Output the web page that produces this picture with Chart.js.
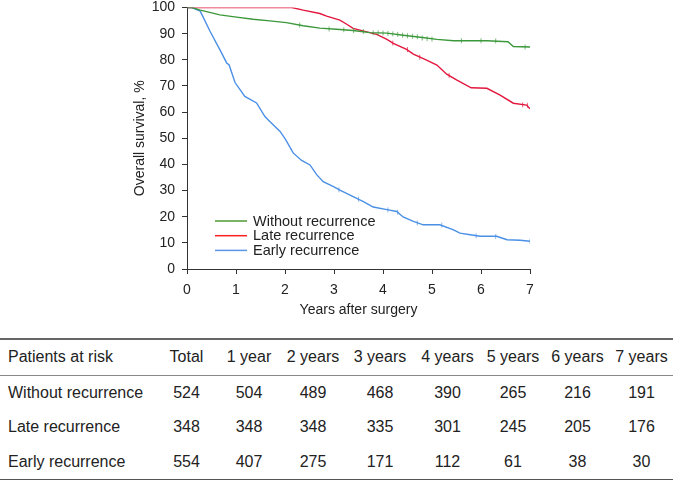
<!DOCTYPE html>
<html>
<head>
<meta charset="utf-8">
<script src="https://cdn.jsdelivr.net/npm/chart.js@4.4.1/dist/chart.umd.min.js"></script>
<style>
body{margin:0;background:#fff;font-family:"Liberation Sans",Arial,sans-serif;}
#wrap{position:relative;width:673px;height:480px;}
#chartbox{position:absolute;left:0;top:0;width:673px;height:330px;}
#risk{position:absolute;left:0;top:338px;width:673px;border-collapse:collapse;table-layout:fixed;font-size:16px;color:#222;}
#risk td{text-align:center;padding:0;height:34.5px;white-space:nowrap;}
#risk td:first-child{text-align:left;padding-left:8px;}
#risk tr:first-child td{border-top:2px solid #666;border-bottom:1px solid #888;}
#risk tr:last-child td{border-bottom:2px solid #555;}
</style>
</head>
<body>
<div id="wrap">
<div id="chartbox"><canvas id="canvas" width="673" height="330"></canvas></div>
<table id="risk"></table>
</div>
<script>
const seriesNames=["Without recurrence","Late recurrence","Early recurrence"];
const seriesColors=["#3b983b","#e3173e","#4a90e6"];
const legendColors=["#4e9a32","#ff2020","#5a96e6"];

const withoutTimes=[0,0.1,0.27,0.4,0.67,1.01,1.35,1.69,2.03,2.37,2.71,3.05,3.39,3.73,4.08,4.41,4.76,5.1,5.44,6.12,6.55,6.66,7.0];
const withoutSurv=[100,100,99.0,98.4,97.2,96.3,95.5,94.9,94.2,93.0,92.1,91.7,91.2,90.4,90.2,89.4,88.6,87.8,87.3,87.3,86.9,85.1,84.9];
const lateTimes=[0,2.14,2.37,2.71,2.85,3.12,3.26,3.39,3.67,3.87,4.08,4.21,4.48,4.62,4.89,5.1,5.3,5.5,5.8,6.12,6.39,6.66,6.93,7.0];
const lateSurv=[100,100,99.0,97.7,96.7,95.2,93.6,92.0,90.7,89.7,87.8,86.3,84.0,82.2,79.9,78.0,74.5,72.3,69.3,69.1,66.5,63.4,62.7,61.3];
const earlyTimes=[0,0.1,0.27,0.47,0.67,0.81,0.86,0.98,1.18,1.42,1.59,1.69,1.9,2.01,2.17,2.34,2.51,2.65,2.78,2.99,3.12,3.39,3.6,3.8,4.08,4.28,4.41,4.62,4.82,5.16,5.44,5.57,5.78,5.98,6.32,6.53,6.8,7.0];
const earlySurv=[100,100,98.6,90.9,83.9,78.8,78.0,71.3,66.0,63.5,58.3,56.4,52.6,49.6,44.3,41.5,39.8,36.0,33.4,31.5,30.2,27.7,25.8,23.7,22.7,22.0,19.9,18.2,16.9,16.9,15.0,13.7,13.1,12.5,12.5,11.2,11.0,10.6];

const withoutCensorX=[2.3,2.9,3.2,3.4,3.6,3.8,3.9,4.0,4.1,4.2,4.3,4.4,4.5,4.6,4.7,4.8,4.9,5.0,5.6,6.0,6.3,6.9];
const withoutCensorY=[93.3,91.8,91.5,91.2,90.8,90.3,90.3,90.2,90.1,89.9,89.7,89.4,89.2,89.0,88.8,88.3,88.1,87.9,87.3,87.3,87.2,84.9];
const lateCensorX=[4.2,4.5,4.75,5.35,6.85,6.95];
const lateCensorY=[86.4,83.9,81.0,74.0,62.8,62.6];
const earlyCensorX=[3.1,3.5,4.1,4.3,4.7,5.2,5.9,6.3,7.0];
const earlyCensorY=[30.3,26.7,22.6,21.7,17.6,16.8,12.7,12.4,10.6];

const xTicks=[0,1,2,3,4,5,6,7];
const yTicks=[0,10,20,30,40,50,60,70,80,90,100];

const riskHeader=["Patients at risk","Total","1 year","2 years","3 years","4 years","5 years","6 years","7 years"];
const riskWithout=[524,504,489,468,390,265,216,191];
const riskLate=[348,348,348,335,301,245,205,176];
const riskEarly=[554,407,275,171,112,61,38,30];
const colWidths=[155,63,62,66,68,67,64,65,63];

function toPoints(xs,ys){
    return xs.map((x,i)=>({x:x,y:ys[i]}));
}
function curve(i,xs,ys){
    return {label:seriesNames[i],data:toPoints(xs,ys),borderColor:seriesColors[i],borderWidth:1.4,pointRadius:0,tension:0,fill:false};
}
function censor(i,xs,ys){
    return {label:"censor",data:toPoints(xs,ys),showLine:false,pointStyle:"line",rotation:90,pointRadius:2.5,borderWidth:1,
        borderColor:seriesColors[i],pointBorderColor:seriesColors[i]+"aa",pointHoverRadius:0};
}
const insideLegend={
    id:"insideLegend",
    afterDraw(chart){
        const ctx=chart.ctx;
        const left=chart.chartArea.left;
        ctx.save();
        ctx.font="14.5px 'Liberation Sans', Arial, sans-serif";
        ctx.textBaseline="middle";
        seriesNames.forEach((name,i)=>{
            const y=221+i*14.7;
            ctx.strokeStyle=legendColors[i];
            ctx.lineWidth=1.5;
            ctx.beginPath();
            ctx.moveTo(left+28,y);
            ctx.lineTo(left+60,y);
            ctx.stroke();
            ctx.fillStyle="#222";
            ctx.fillText(name,left+66,y+0.5);
        });
        ctx.restore();
    }
};
function axisStyle(){
    return {
        grid:{drawOnChartArea:false,drawTicks:true,tickLength:5,color:"#333"},
        border:{display:true,color:"#333",width:1}
    };
}
function drawChart(){
    const ctx=document.getElementById("canvas");
    new Chart(ctx,{
        type:"line",
        data:{datasets:[
            censor(0,withoutCensorX,withoutCensorY),
            curve(0,withoutTimes,withoutSurv),
            curve(1,lateTimes,lateSurv),
            censor(1,lateCensorX,lateCensorY),
            curve(2,earlyTimes,earlySurv),
            censor(2,earlyCensorX,earlyCensorY)
        ]},
        options:{
            responsive:false,
            animation:false,
            layout:{padding:{left:128,right:143,top:7.5,bottom:7.6}},
            plugins:{legend:{display:false},tooltip:{enabled:false}},
            scales:{
                x:{
                    type:"linear",min:0,max:7,
                    ...axisStyle(),
                    afterBuildTicks:s=>{s.ticks=xTicks.map(v=>({value:v}));},
                    afterFit:s=>{s.height=53.4;s.paddingLeft=0;s.paddingRight=0;},
                    ticks:{color:"#222",font:{size:14,family:"'Liberation Sans', Arial"},padding:8,maxRotation:0},
                    title:{display:true,text:"Years after surgery",color:"#222",font:{size:14,family:"'Liberation Sans', Arial"}}
                },
                y:{
                    type:"linear",min:0,max:100,
                    ...axisStyle(),
                    afterBuildTicks:s=>{s.ticks=yTicks.map(v=>({value:v}));},
                    afterFit:s=>{s.width=59;s.paddingTop=0;s.paddingBottom=0;},
                    ticks:{color:"#222",font:{size:14,family:"'Liberation Sans', Arial"},padding:7},
                    title:{display:true,text:"Overall survival, %",color:"#222",font:{size:14,family:"'Liberation Sans', Arial"}}
                }
            }
        },
        plugins:[insideLegend]
    });
}
function riskTable(){
    const table=document.getElementById("risk");
    let html="<colgroup>"+colWidths.map(w=>`<col style="width:${w}px">`).join("")+"</colgroup>";
    html+="<tr>"+riskHeader.map(h=>`<td>${h}</td>`).join("")+"</tr>";
    [riskWithout,riskLate,riskEarly].forEach((row,i)=>{
        html+=`<tr><td>${seriesNames[i]}</td>`+row.map(v=>`<td>${v}</td>`).join("")+"</tr>";
    });
    table.innerHTML=html;
}
drawChart();
riskTable();
</script>
</body>
</html>
